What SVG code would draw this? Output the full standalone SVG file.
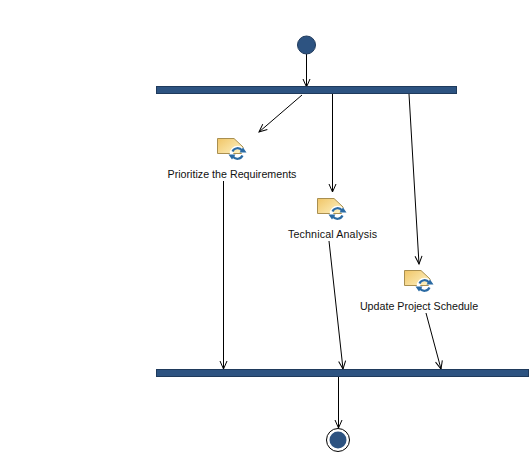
<svg xmlns="http://www.w3.org/2000/svg" width="530" height="473" viewBox="0 0 530 473">
<style>
.bar{fill:#2d5381;stroke:#1f3a5c;stroke-width:1}
.c{fill:none;stroke:#000;stroke-width:1}
.lbl{font-family:"Liberation Sans",Arial,sans-serif;font-size:10.700px;fill:#111;text-anchor:middle}
.doc{fill:url(#g);stroke:#a98f50;stroke-width:1}
.halo{fill:none;stroke:#fff;stroke-width:3.500}
.rot{fill:none;stroke:#2a6aa3;stroke-width:2.200}
.rotH{fill:#2a6aa3}
</style>
<defs>
<linearGradient id="g" x1="0" y1="0" x2="1" y2="0.800"><stop offset="0" stop-color="#f0c566"/><stop offset="1" stop-color="#fdf0c0"/></linearGradient>
<marker id="a" markerUnits="userSpaceOnUse" markerWidth="12" markerHeight="12" refX="10" refY="5" orient="auto"><path d="M2 1.500L10 5L2 8.500" fill="none" stroke="#000"/></marker>
<g id="ic">
<path class="doc" d="M0.500 0.500H17L26 9V15.500H0.500Z"/>
<circle class="halo" cx="20.500" cy="15.500" r="6"/>
<path class="rot" d="M15.500 13.500A5.500 5.500 0 0 1 25 12.500"/>
<path class="rot" d="M25.500 17.500A5.500 5.500 0 0 1 16 18.500"/>
<path class="rotH" d="M22.500 14.500L29.500 14.500L26 9.500ZM11.500 16.500L18.500 16.500L15 21.500Z"/>
</g>
</defs>
<rect width="530" height="473" fill="#fff"/>
<g id="connectors">
<path class="c" marker-end="url(#a)" d="M306.500 54V87"/>
<path class="c" marker-end="url(#a)" d="M302 95L259 132"/>
<path class="c" marker-end="url(#a)" d="M332.500 94V192"/>
<path class="c" marker-end="url(#a)" d="M409 94L419 264"/>
<path class="c" marker-end="url(#a)" d="M223.500 181V369"/>
<path class="c" marker-end="url(#a)" d="M329 241L343 369"/>
<path class="c" marker-end="url(#a)" d="M426 313L441 369"/>
<path class="c" marker-end="url(#a)" d="M338.500 377V428"/>
</g>
<g id="start"><circle cx="306.500" cy="45" r="9" fill="#2d5381" stroke="#1f3a5c"/></g>
<g id="fork"><rect class="bar" x="156.500" y="86.500" width="300" height="7"/></g>
<g id="join"><rect class="bar" x="156.500" y="369.500" width="372" height="7"/></g>
<g id="prioritize"><use href="#ic" x="217" y="138"/><text class="lbl" x="232" y="178">Prioritize the Requirements</text></g>
<g id="technical"><use href="#ic" x="317" y="198"/><text class="lbl" x="332.500" y="238" textLength="89">Technical Analysis</text></g>
<g id="update"><use href="#ic" x="404" y="270"/><text class="lbl" x="419" y="310">Update Project Schedule</text></g>
<g id="end"><circle cx="338" cy="440" r="11.500" fill="#fff" stroke="#000"/><circle cx="338" cy="440" r="8.500" fill="#2d5381"/></g>
</svg>
